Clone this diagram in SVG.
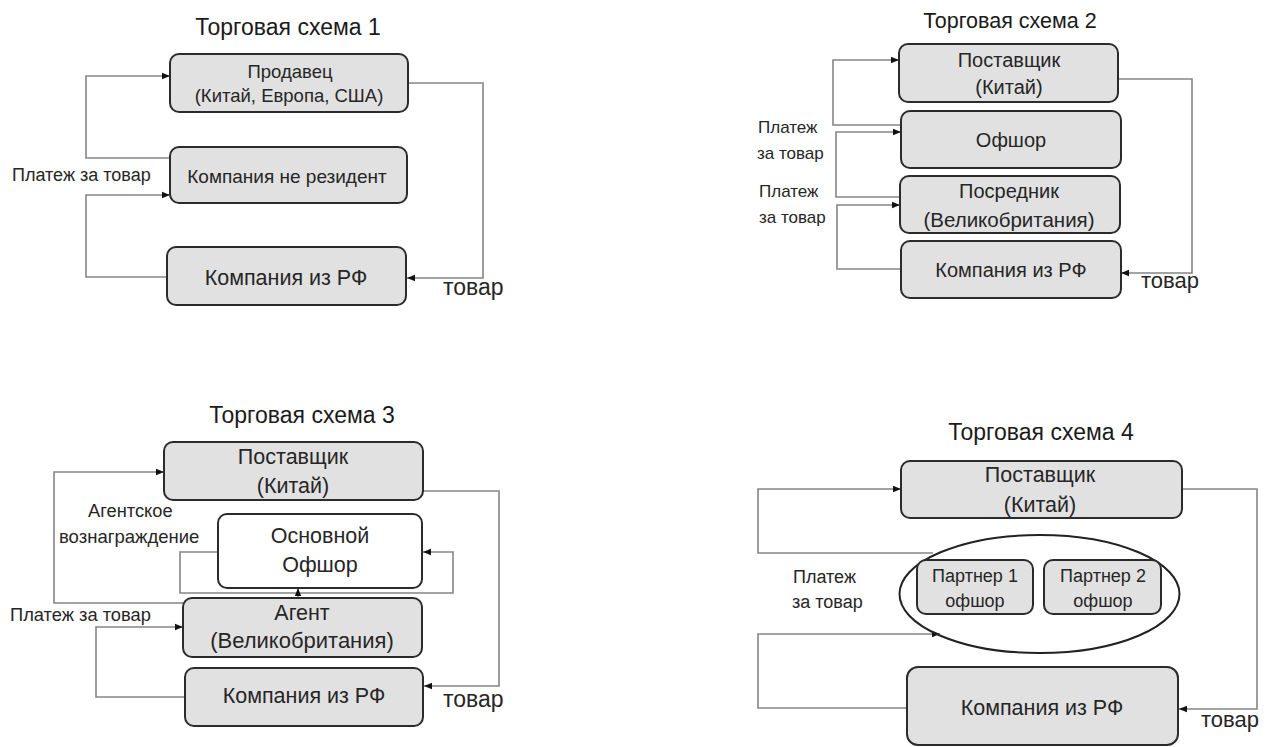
<svg xmlns="http://www.w3.org/2000/svg" width="1268" height="747" viewBox="0 0 1268 747">
<defs>
<marker id="ah" viewBox="0 0 10 10" refX="10" refY="5" markerWidth="8" markerHeight="8" markerUnits="userSpaceOnUse" orient="auto">
<path d="M0,1 L10,5 L0,9 z" fill="#111"/>
</marker>
<style>
text{font-family:"Liberation Sans",Arial,sans-serif;fill:#262626}
.t{text-anchor:middle;font-size:23px;fill:#1a1a1a}
.c{text-anchor:middle}
.box{fill:#e1e1e1;stroke:#2b2b2b;stroke-width:2}
.wbox{fill:#ffffff;stroke:#2b2b2b;stroke-width:2}
.ln{fill:none;stroke:#858585;stroke-width:1.6;marker-end:url(#ah)}
.ln0{fill:none;stroke:#858585;stroke-width:1.6}
</style>
</defs>
<rect width="1268" height="747" fill="#ffffff"/>

<g id="titles">
<text class="t" x="288" y="35">Торговая схема 1</text>
<text class="t" x="1010" y="28" style="font-size:21.5px">Торговая схема 2</text>
<text class="t" x="302" y="423">Торговая схема 3</text>
<text class="t" x="1041" y="440">Торговая схема 4</text>
</g>

<g id="connectors">
<!-- scheme 1 -->
<path class="ln" d="M170,158 H86 V76 H170"/>
<path class="ln" d="M167,277 H86 V195 H170"/>
<path class="ln" d="M408,83 H483 V278 H407"/>
<!-- scheme 2 -->
<path class="ln" d="M901,125 H833 V60 H899"/>
<path class="ln" d="M900,197 H836 V132 H901"/>
<path class="ln" d="M901,269 H837 V205 H900"/>
<path class="ln" d="M1118,79 H1192 V273 H1121"/>
<!-- scheme 3 -->
<path class="ln" d="M183,603 H54 V472 H164"/>
<path class="ln" d="M185,697 H96 V627 H183"/>
<path class="ln" d="M218,552 H180 V593 H453 V552 H423"/>
<path class="ln" d="M298,598 V588"/>
<path class="ln" d="M423,491 H499 V686 H424"/>
<!-- scheme 4 -->
<path class="ln" d="M933,553 H758 V489 H901"/>
<path class="ln" d="M907,708 H758 V634 H940"/>
<path class="ln" d="M1182,489 H1257 V709 H1179"/>
</g>

<g id="labels">
<text x="12" y="181" style="font-size:18px">Платеж за товар</text>
<text x="443" y="295" style="font-size:23px">товар</text>
<text x="758" y="133" style="font-size:17px">Платеж</text>
<text x="757" y="159" style="font-size:17px">за товар</text>
<text x="759" y="197" style="font-size:17px">Платеж</text>
<text x="759" y="223" style="font-size:17px">за товар</text>
<text x="1141" y="288" style="font-size:22px">товар</text>
<text x="88" y="517" style="font-size:18.3px">Агентское</text>
<text x="59" y="543" style="font-size:18.5px">вознаграждение</text>
<text x="10" y="621" style="font-size:18.3px">Платеж за товар</text>
<text x="443" y="707" style="font-size:23px">товар</text>
<text x="793" y="583" style="font-size:18px">Платеж</text>
<text x="792" y="608" style="font-size:18px">за товар</text>
<text x="1201" y="727" style="font-size:22px">товар</text>
</g>

<!-- Scheme 1 nodes -->
<g id="s1-prodavec">
<rect class="box" x="170" y="54" width="238" height="58" rx="9"/>
<text class="c" x="290" y="78" style="font-size:18.5px">Продавец</text>
<text class="c" x="289" y="102" style="font-size:18.5px">(Китай, Европа, США)</text>
</g>
<g id="s1-nerezident">
<rect class="box" x="170" y="147" width="237" height="56" rx="9"/>
<text class="c" x="287" y="183" style="font-size:19px">Компания не резидент</text>
</g>
<g id="s1-rf">
<rect class="box" x="167" y="247" width="239" height="58" rx="9"/>
<text class="c" x="286" y="285" style="font-size:21.5px">Компания из РФ</text>
</g>

<!-- Scheme 2 nodes -->
<g id="s2-postavshik">
<rect class="box" x="899" y="44" width="219" height="58" rx="9"/>
<text class="c" x="1009" y="67" style="font-size:20px">Поставщик</text>
<text class="c" x="1009" y="94" style="font-size:20px">(Китай)</text>
</g>
<g id="s2-offshore">
<rect class="box" x="901" y="111" width="220" height="57" rx="9"/>
<text class="c" x="1011" y="147" style="font-size:20px">Офшор</text>
</g>
<g id="s2-posrednik">
<rect class="box" x="900" y="176" width="220" height="57" rx="9"/>
<text class="c" x="1009" y="198" style="font-size:20px">Посредник</text>
<text class="c" x="1009" y="227" style="font-size:20.5px">(Великобритания)</text>
</g>
<g id="s2-rf">
<rect class="box" x="901" y="241" width="220" height="57" rx="9"/>
<text class="c" x="1011" y="277" style="font-size:20px">Компания из РФ</text>
</g>

<!-- Scheme 3 nodes -->
<g id="s3-postavshik">
<rect class="box" x="164" y="442" width="259" height="58" rx="9"/>
<text class="c" x="293" y="464" style="font-size:21.5px">Поставщик</text>
<text class="c" x="293" y="493" style="font-size:21.5px">(Китай)</text>
</g>
<g id="s3-offshore">
<rect class="wbox" x="218" y="514" width="204" height="74" rx="9"/>
<text class="c" x="320" y="543" style="font-size:21.5px">Основной</text>
<text class="c" x="320" y="572" style="font-size:21.5px">Офшор</text>
</g>
<g id="s3-agent">
<rect class="box" x="183" y="598" width="239" height="59" rx="9"/>
<text class="c" x="302" y="620" style="font-size:21.5px">Агент</text>
<text class="c" x="302" y="648" style="font-size:22px">(Великобритания)</text>
</g>
<g id="s3-rf">
<rect class="box" x="185" y="668" width="238" height="58" rx="9"/>
<text class="c" x="304" y="703" style="font-size:21.5px">Компания из РФ</text>
</g>

<!-- Scheme 4 nodes -->
<g id="s4-postavshik">
<rect class="box" x="901" y="461" width="281" height="57" rx="9"/>
<text class="c" x="1040" y="482" style="font-size:21.5px">Поставщик</text>
<text class="c" x="1040" y="512" style="font-size:21.5px">(Китай)</text>
</g>
<g id="s4-group">
<ellipse cx="1039.5" cy="594" rx="140" ry="59" fill="none" stroke="#222" stroke-width="2"/>
</g>
<g id="s4-partner1">
<rect class="box" x="917" y="560" width="116" height="54" rx="9"/>
<text class="c" x="975" y="582" style="font-size:18px">Партнер 1</text>
<text class="c" x="975" y="607" style="font-size:18px">офшор</text>
</g>
<g id="s4-partner2">
<rect class="box" x="1044" y="560" width="117" height="54" rx="9"/>
<text class="c" x="1103" y="582" style="font-size:18px">Партнер 2</text>
<text class="c" x="1103" y="607" style="font-size:18px">офшор</text>
</g>
<g id="s4-rf">
<rect class="box" x="907" y="667" width="271" height="78" rx="11"/>
<text class="c" x="1042" y="715" style="font-size:21.5px">Компания из РФ</text>
</g>
</svg>
